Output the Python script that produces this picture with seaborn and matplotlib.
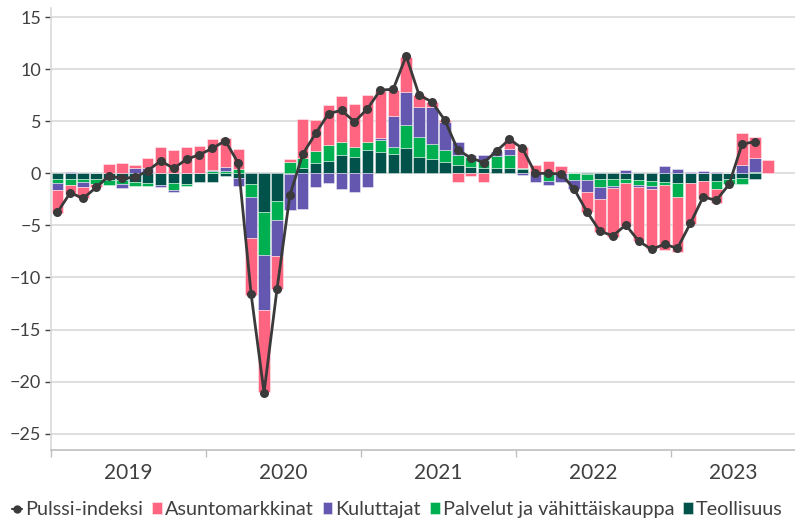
import numpy as np
import matplotlib.pyplot as plt
import seaborn as sns

# monthly values, Jan 2019 - Aug 2023
teollisuus = [-0.5, -0.5, -0.5, -0.55, -0.65, -0.65, -0.8, -0.9, -1.1, -0.95, -1.05, -0.87,
              -0.87, -0.3, -0.4, -1.0, -3.7, -2.7, -0.1, 0.55, 1.0, 1.2, 1.8, 1.55,
              2.2, 2.1, 1.9, 2.4, 1.6, 1.4, 1.05, 0.8, 0.65, 0.5, 0.5, 0.5,
              0.4, 0.0, 0.0, 0.0, 0.0, -0.1, -0.5, -0.5, -0.5, -0.65, -0.75, -0.85,
              -0.9, -0.9, -0.75, -0.75, -0.5, -0.4, -0.5, 0.0]
palvelut = [-0.4, -0.65, -0.3, -0.5, -0.5, -0.4, -0.4, -0.3, 0.0, -0.65, -0.2, 0.0,
            0.2, 0.2, 0.4, -1.3, -4.1, -1.75, 1.1, 0.9, 1.15, 1.5, 1.2, 0.95,
            0.8, 1.1, 0.6, 2.25, 1.9, 1.45, 1.2, 1.0, 0.9, 0.75, 1.15, 1.25,
            0.1, 0.0, -0.7, 0.0, -0.65, -0.55, -0.8, -0.7, -0.4, -0.5, -0.45, -0.25,
            -1.35, 0.0, 0.0, -0.75, -0.55, -0.65, 0.15, 0.05]
kuluttajat = [-0.67, 0.15, -0.5, 0.0, 0.0, -0.4, 0.5, 0.5, -0.25, -0.15, 0.0, 0.0,
              0.15, 0.4, -0.85, -3.95, -5.3, -3.45, -3.4, -3.45, -1.3, -0.95, -1.5, -1.75,
              -1.3, 0.2, 3.05, 3.15, 2.9, 3.5, 2.7, 1.2, 0.2, 0.5, 0.5, 0.55,
              -0.15, -0.85, -0.4, -0.85, -0.85, -1.1, -1.2, -0.2, 0.3, -0.2, -0.3, 0.7,
              0.4, 0.1, 0.2, 0.15, 0.0, 0.85, 1.35, 0.0]
asunto = [-2.2, -0.85, -1.1, -0.3, 0.9, 0.95, 0.3, 0.95, 2.5, 2.2, 2.5, 2.6,
          2.95, 2.8, 1.9, -5.45, -7.9, -3.25, 0.3, 3.8, 2.95, 3.9, 4.4, 4.15,
          4.5, 4.5, 2.5, 3.35, 1.1, 0.55, 0.2, -0.8, -0.3, -0.8, 0.0, 0.9,
          2.0, 0.8, 1.2, 0.7, 0.0, -2.0, -3.1, -4.7, -4.2, -5.1, -5.8, -6.3,
          -5.35, -4.0, -1.7, -1.3, 0.0, 3.0, 2.0, 1.2]
pulssi = [-3.75, -1.86, -2.4, -1.35, -0.25, -0.48, -0.38, 0.26, 1.2, 0.48, 1.35, 1.8,
          2.4, 3.14, 1.0, -11.6, -21.06, -11.15, -2.1, 1.86, 3.85, 5.75, 6.05, 4.95,
          6.2, 8.0, 8.08, 11.28, 7.53, 6.86, 5.1, 2.25, 1.5, 1.03, 2.15, 3.27,
          2.4, 0.0, 0.0, -0.05, -1.5, -3.7, -5.55, -6.0, -4.95, -6.5, -7.3, -6.8,
          -7.2, -4.8, -2.25, -2.6, -1.05, 2.8, 3.05, np.nan]
years = ["2019", "2020", "2021", "2022", "2023"]

series = [("Teollisuus", teollisuus, "#00524A"),
          ("Palvelut ja vähittäiskauppa", palvelut, "#00B050"),
          ("Kuluttajat", kuluttajat, "#6457B0"),
          ("Asuntomarkkinat", asunto, "#FF6480")]

sns.set_style("white")
plt.rcParams['font.family'] = ['Lato', 'DejaVu Sans']

fig = plt.figure(figsize=(7.95, 5.23), dpi=100)
ax = fig.add_axes([0.064, 0.139, 0.936, 0.846])

x = np.arange(len(pulssi))
pos_bottom = np.zeros(len(x))
neg_bottom = np.zeros(len(x))
handles = {}
for name, vals, col in series:
    v = np.array(vals)
    bottom = np.where(v >= 0, pos_bottom, neg_bottom)
    bars = ax.bar(x, v, bottom=bottom, width=0.88, color=col,
                  edgecolor=(1, 1, 1, 0.5), linewidth=0.6, zorder=2)
    handles[name] = bars
    pos_bottom += np.where(v >= 0, v, 0)
    neg_bottom += np.where(v < 0, v, 0)

sns.lineplot(x=x, y=pulssi, ax=ax, color="#3A3A3A", linewidth=2,
             marker="o", markersize=6.5, markeredgewidth=0, zorder=3)

xmax = 57.1
ax.set_xlim(-0.5, xmax)
ax.set_ylim(-26.6, 15.9)
ax.set_yticks(range(-25, 16, 5))
ax.yaxis.grid(True, color="#D9D9D9", linewidth=1.2, zorder=0)
ax.xaxis.grid(False)

for s in ["top", "right"]:
    ax.spines[s].set_visible(False)
ax.spines["left"].set_color("#D9D9D9")
ax.spines["left"].set_linewidth(1.2)
ax.spines["bottom"].set_color("#BFBFBF")
ax.spines["bottom"].set_linewidth(1.2)

boundaries = [-0.5 + 12 * k for k in range(5)]
ax.set_xticks(boundaries)
ax.set_xticklabels([])
centers = [b + 6 for b in boundaries[:4]] + [(boundaries[4] + xmax) / 2]
ax.set_xticks(centers, minor=True)
ax.set_xticklabels(years, minor=True)
ax.tick_params(axis="x", which="major", length=5, width=1, color="#BFBFBF", direction="out", bottom=True)
ax.tick_params(axis="x", which="minor", length=0, pad=9, labelsize=15, labelcolor="#404040")
ax.tick_params(axis="y", length=4, width=1, color="#404040", left=True, pad=3,
               labelsize=13, labelcolor="#404040")

line_handle = plt.Line2D([], [], color="#3A3A3A", linewidth=1.5, marker="o", markersize=5)
order = ["Asuntomarkkinat", "Kuluttajat", "Palvelut ja vähittäiskauppa", "Teollisuus"]
fig.legend([line_handle] + [handles[n] for n in order], ["Pulssi-indeksi"] + order,
           loc="lower center", bbox_to_anchor=(0.5, -0.025), ncol=5, frameon=False,
           fontsize=14.3, handlelength=0.5, handleheight=0.5, handletextpad=0.15,
           columnspacing=0.45, labelcolor="#404040")

fig.savefig("out.png", dpi=100)
